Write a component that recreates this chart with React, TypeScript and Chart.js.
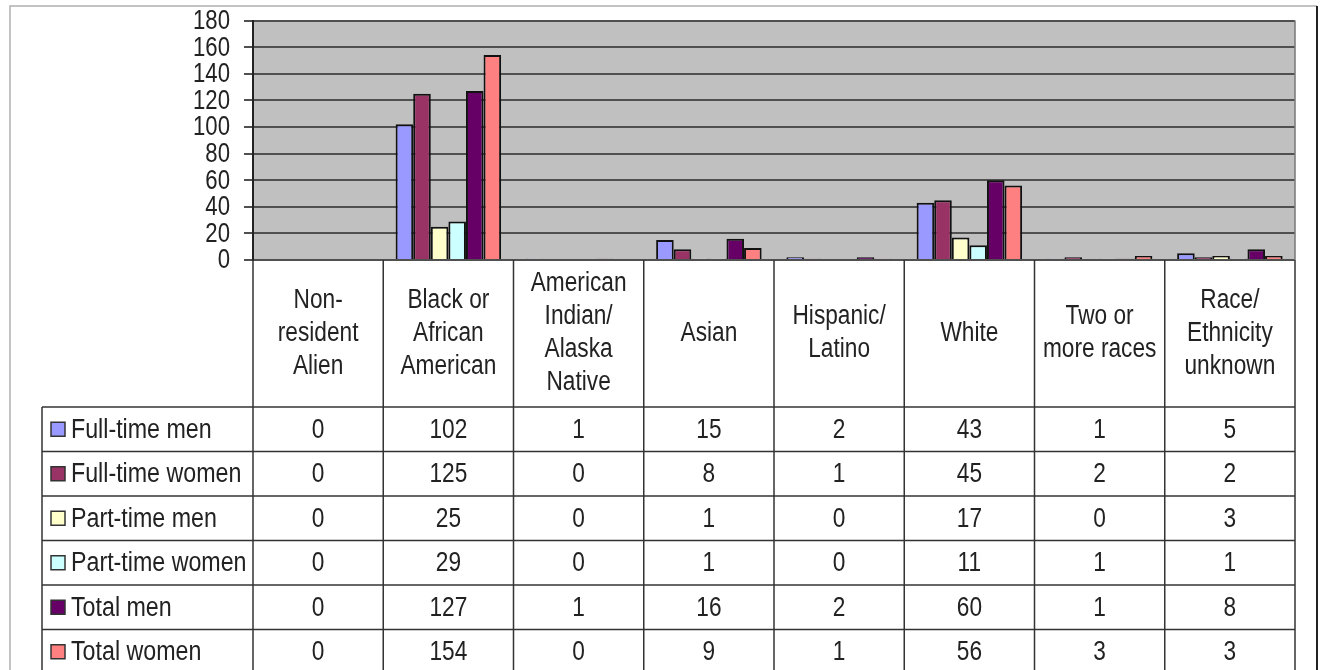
import React, { useEffect, useRef } from "react";
import { Chart, registerables } from "chart.js";

Chart.register(...registerables);

const categories: string[][] = [
  ["Non-", "resident", "Alien"],
  ["Black or", "African", "American"],
  ["American", "Indian/", "Alaska", "Native"],
  ["Asian"],
  ["Hispanic/", "Latino"],
  ["White"],
  ["Two or", "more races"],
  ["Race/", "Ethnicity", "unknown"],
];

const seriesNames = [
  "Full-time men",
  "Full-time women",
  "Part-time men",
  "Part-time women",
  "Total men",
  "Total women",
];

const fullTimeMen = [0, 102, 1, 15, 2, 43, 1, 5];
const fullTimeWomen = [0, 125, 0, 8, 1, 45, 2, 2];
const partTimeMen = [0, 25, 0, 1, 0, 17, 0, 3];
const partTimeWomen = [0, 29, 0, 1, 0, 11, 1, 1];
const totalMen = [0, 127, 1, 16, 2, 60, 1, 8];
const totalWomen = [0, 154, 0, 9, 1, 56, 3, 3];

const seriesValues = [fullTimeMen, fullTimeWomen, partTimeMen, partTimeWomen, totalMen, totalWomen];
const seriesColors = ["#9999FF", "#993366", "#FFFFCC", "#CCFFFF", "#660066", "#FF8080"];

const yTicks = [0, 20, 40, 60, 80, 100, 120, 140, 160, 180];

const FONT = '"Liberation Sans", Arial, sans-serif';

function narrowText(ctx: CanvasRenderingContext2D, text: string, x: number, y: number, align: CanvasTextAlign, sx: number) {
  ctx.save();
  ctx.translate(x, y);
  ctx.scale(sx, 1);
  ctx.textAlign = align;
  ctx.fillText(text, 0, 0);
  ctx.restore();
}

export default function App() {
  const ref = useRef<HTMLCanvasElement | null>(null);

  useEffect(() => {
    document.body.style.margin = "0";
    const canvas = ref.current!;

    const tablePlugin = {
      id: "excelTable",
      beforeDraw(chart: any) {
        const { ctx, chartArea } = chart;
        ctx.save();
        ctx.fillStyle = "#ffffff";
        ctx.fillRect(0, 0, chart.width, chart.height);
        ctx.fillStyle = "#C0C0C0";
        ctx.fillRect(chartArea.left, chartArea.top, chartArea.right - chartArea.left, chartArea.bottom - chartArea.top);
        ctx.restore();
      },
      afterDraw(chart: any) {
        const { ctx, chartArea } = chart;
        const n = chart.data.labels.length;
        const cw = (chartArea.right - chartArea.left) / n;
        const headerBottom = 407;
        const rowH = 44.5;
        const tableLeft = 42;
        ctx.save();

        // outer frame
        ctx.strokeStyle = "#b0b0b0";
        ctx.lineWidth = 1.5;
        ctx.beginPath();
        ctx.moveTo(10, chart.height);
        ctx.lineTo(10, 6);
        ctx.lineTo(1317, 6);
        ctx.stroke();
        ctx.strokeStyle = "#222";
        ctx.lineWidth = 2;
        ctx.beginPath();
        ctx.moveTo(1317, 6);
        ctx.lineTo(1317, chart.height);
        ctx.stroke();

        // plot right edge
        ctx.strokeStyle = "#777";
        ctx.lineWidth = 1.5;
        ctx.beginPath();
        ctx.moveTo(chartArea.right, chartArea.top);
        ctx.lineTo(chartArea.right, chartArea.bottom);
        ctx.stroke();

        // y tick labels (narrow)
        const yScale = chart.scales.y;
        ctx.fillStyle = "#222";
        ctx.font = `27px ${FONT}`;
        ctx.textBaseline = "middle";
        yScale.ticks.forEach((t: any) => {
          const y = yScale.getPixelForValue(t.value);
          narrowText(ctx, String(t.value), 230, y + 1, "right", 0.82);
        });

        // table lines
        ctx.strokeStyle = "#333";
        ctx.lineWidth = 1.5;
        for (let i = 0; i <= n; i++) {
          const x = chartArea.left + i * cw;
          ctx.beginPath();
          ctx.moveTo(x, chartArea.bottom);
          ctx.lineTo(x, chart.height);
          ctx.stroke();
        }
        ctx.beginPath();
        ctx.moveTo(tableLeft, headerBottom);
        ctx.lineTo(tableLeft, chart.height);
        ctx.stroke();
        const rows = chart.data.datasets.length;
        for (let r = 0; r <= rows; r++) {
          const y = headerBottom + r * rowH;
          ctx.beginPath();
          ctx.moveTo(tableLeft, y);
          ctx.lineTo(chartArea.right, y);
          ctx.stroke();
        }

        // header text
        ctx.fillStyle = "#222";
        ctx.font = `27px ${FONT}`;
        ctx.textBaseline = "middle";
        const headerMid = (chartArea.bottom + headerBottom) / 2;
        const lh = 33;
        chart.data.labels.forEach((lines: string[], i: number) => {
          const cx = chartArea.left + (i + 0.5) * cw;
          const y0 = headerMid - ((lines.length - 1) * lh) / 2;
          lines.forEach((t: string, k: number) => narrowText(ctx, t, cx, y0 + k * lh, "center", 0.84));
        });

        // rows
        chart.data.datasets.forEach((ds: any, r: number) => {
          const cy = headerBottom + (r + 0.5) * rowH;
          ctx.fillStyle = ds.backgroundColor;
          ctx.strokeStyle = "#333";
          ctx.lineWidth = 1.5;
          ctx.fillRect(51, cy - 7, 14, 14);
          ctx.strokeRect(51, cy - 7, 14, 14);
          ctx.fillStyle = "#222";
          narrowText(ctx, ds.label, 71, cy + 1, "left", 0.86);
          ds.data.forEach((v: number, i: number) => {
            narrowText(ctx, String(v), chartArea.left + (i + 0.5) * cw, cy + 1, "center", 0.84);
          });
        });
        ctx.restore();
      },
    };

    const chart = new Chart(canvas, {
      type: "bar",
      data: {
        labels: categories as any,
        datasets: seriesNames.map((name, i) => ({
          label: name,
          data: seriesValues[i],
          backgroundColor: seriesColors[i],
          borderColor: "#111",
          borderWidth: 2,
          categoryPercentage: 0.81,
          barPercentage: 1,
        })),
      },
      options: {
        responsive: false,
        devicePixelRatio: 1,
        animation: false,
        layout: { padding: { left: 0, top: 20.5, right: 27, bottom: 410 } },
        plugins: { legend: { display: false }, tooltip: { enabled: false } },
        scales: {
          x: { display: false, grid: { display: false } },
          y: {
            min: 0,
            max: 180,
            afterBuildTicks: (scale: any) => {
              scale.ticks = yTicks.map((v) => ({ value: v }));
            },
            afterFit: (scale: any) => {
              scale.width = 253;
            },
            ticks: {
              autoSkip: false,
              padding: 13,
              color: "rgba(0,0,0,0)",
              font: { family: FONT, size: 8 },
            },
            grid: { color: "#505050", lineWidth: 2, tickLength: 9, drawTicks: true },
            border: { display: true, color: "#222", width: 2 },
          },
        },
      },
      plugins: [tablePlugin],
    });
    return () => chart.destroy();
  }, []);

  return (
    <div style={{ width: 1322, height: 670 }}>
      <canvas ref={ref} width={1322} height={670} />
    </div>
  );
}
